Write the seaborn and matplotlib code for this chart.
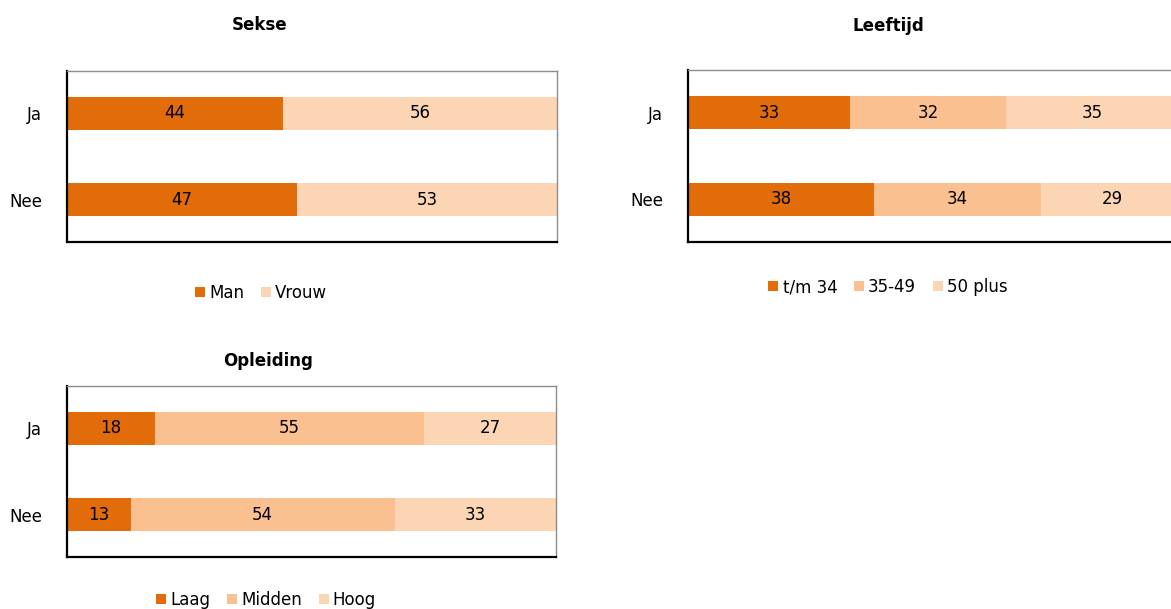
import numpy as np
import pandas as pd
import matplotlib
matplotlib.use("Agg")
import matplotlib.pyplot as plt
from matplotlib.patches import Patch
import seaborn as sns

# --- dati ---
groepen = ["Ja", "Nee"]

sekse_labels = ["Man", "Vrouw"]
sekse_waarden = [[44, 56], [47, 53]]

leeftijd_labels = ["t/m 34", "35-49", "50 plus"]
leeftijd_waarden = [[33, 32, 35], [38, 34, 29]]

opleiding_labels = ["Laag", "Midden", "Hoog"]
opleiding_waarden = [[18, 55, 27], [13, 54, 33]]

kleuren_2 = ["#E36C0A", "#FCD5B5"]
kleuren_3 = ["#E36C0A", "#FAC090", "#FCD5B5"]

sns.set_theme(style="white")
plt.rcParams["font.family"] = ["DejaVu Sans"]
plt.rcParams["text.color"] = "black"
plt.rcParams["ytick.color"] = "black"
plt.rcParams["ytick.labelcolor"] = "black"

W, H = 1171, 609
FS = 12
fig = plt.figure(figsize=(W / 100, H / 100), dpi=100)


def px_ax(left, top, right, bottom):
    return fig.add_axes([left / W, 1 - bottom / H, (right - left) / W, (bottom - top) / H])


def stacked(ax, labels, waarden, kleuren):
    arr = np.array(waarden, dtype=float)
    cum = np.cumsum(arr, axis=1)
    # disegno dal totale verso il primo segmento (sovrapposizione)
    for j in range(len(labels) - 1, -1, -1):
        df = pd.DataFrame({"groep": groepen, "waarde": cum[:, j]})
        sns.barplot(data=df, x="waarde", y="groep", color=kleuren[j], saturation=1,
                    width=0.38, orient="h", ax=ax, linewidth=0)
    for i in range(len(groepen)):
        for j in range(len(labels)):
            mid = cum[i, j] - arr[i, j] / 2
            ax.text(mid, i, f"{int(arr[i, j])}", ha="center", va="center",
                    fontsize=FS, color="black")
    ax.set_xlim(0, 100)
    ax.set_ylim(1.49, -0.49)
    ax.set_xlabel("")
    ax.set_ylabel("")
    ax.set_xticks([])
    ax.tick_params(axis="y", length=0, pad=18, labelsize=FS, labelcolor="black")
    for s in ["top", "right"]:
        ax.spines[s].set_color("#8C8C8C")
        ax.spines[s].set_linewidth(1.0)
    for s in ["left", "bottom"]:
        ax.spines[s].set_color("black")
        ax.spines[s].set_linewidth(1.6)


def legenda(labels, kleuren, cx, cy):
    handles = [Patch(facecolor=c, edgecolor="none") for c in kleuren]
    fig.legend(handles, labels, loc="center", bbox_to_anchor=(cx / W, 1 - cy / H),
               ncol=len(labels), frameon=False, fontsize=FS, handlelength=0.6,
               handleheight=0.6, handletextpad=0.25, columnspacing=1.0)


ax1 = px_ax(67, 71, 557, 242)
stacked(ax1, sekse_labels, sekse_waarden, kleuren_2)
fig.text(260 / W, 1 - 25 / H, "Sekse", ha="center", va="center", fontsize=FS, fontweight="bold")
legenda(sekse_labels, kleuren_2, 261, 293)

ax2 = px_ax(688, 70, 1178, 242)
stacked(ax2, leeftijd_labels, leeftijd_waarden, kleuren_3)
fig.text(888 / W, 1 - 26 / H, "Leeftijd", ha="center", va="center", fontsize=FS, fontweight="bold")
legenda(leeftijd_labels, kleuren_3, 888, 287)

ax3 = px_ax(67, 386, 556, 557)
stacked(ax3, opleiding_labels, opleiding_waarden, kleuren_3)
fig.text(268 / W, 1 - 361 / H, "Opleiding", ha="center", va="center", fontsize=FS, fontweight="bold")
legenda(opleiding_labels, kleuren_3, 266, 600)

fig.savefig("out.png", dpi=100)
